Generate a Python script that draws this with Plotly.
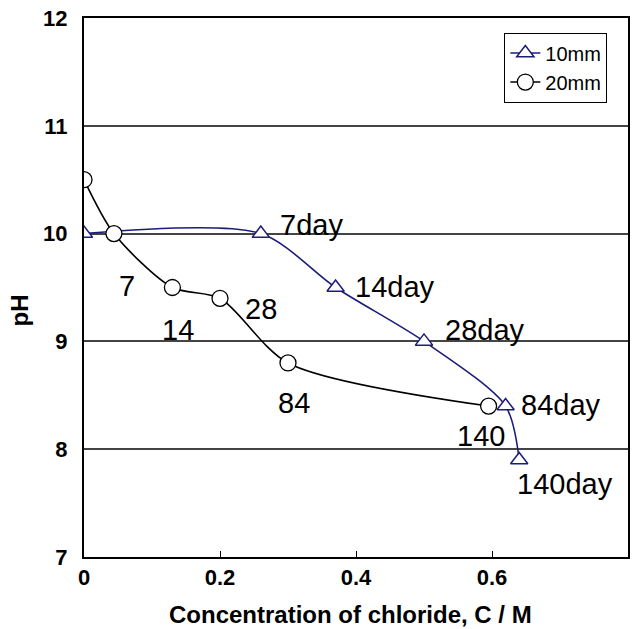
import plotly.graph_objects as go

# Data
x_10mm = [0.0, 0.26, 0.37, 0.50, 0.62, 0.64]
ph_10mm = [10.0, 10.0, 9.5, 9.0, 8.4, 7.9]
x_20mm = [0.0, 0.044, 0.13, 0.20, 0.30, 0.595]
ph_20mm = [10.5, 10.0, 9.5, 9.4, 8.8, 8.4]

labels_10mm = ["7day", "14day", "28day", "84day", "140day"]
lab10_x = [0.285, 0.395, 0.528, 0.640, 0.634]
lab10_y = [10.08, 9.505, 9.11, 8.41, 7.68]
labels_20mm = ["7", "14", "28", "84", "140"]
lab20_x = [0.063, 0.138, 0.261, 0.309, 0.584]
lab20_y = [9.51, 9.105, 9.30, 8.43, 8.12]

x_ticks = [0, 0.2, 0.4, 0.6, 0.8]
x_tick_text = ["0", "0.2", "0.4", "0.6", "0.8"]
y_ticks = [7, 8, 9, 10, 11, 12]

x_title = "Concentration of chloride, C / M"
y_title = "pH"

FONT = "Liberation Sans, Arial, sans-serif"
NAVY = "#1c1c7a"

fig = go.Figure()
fig.add_trace(go.Scatter(
    x=x_10mm, y=ph_10mm, name="10mm", mode="lines+markers",
    line=dict(color=NAVY, width=1.6, shape="spline", smoothing=0.8),
    marker=dict(symbol="triangle-up", size=15, color="white",
                line=dict(color=NAVY, width=1.5)),
))
fig.add_trace(go.Scatter(
    x=x_20mm, y=ph_20mm, name="20mm", mode="lines+markers",
    line=dict(color="black", width=1.6, shape="spline", smoothing=0.8),
    marker=dict(symbol="circle", size=16, color="white",
                line=dict(color="black", width=1.3)),
))

annotations = []
for t, xx, yy in zip(labels_10mm, lab10_x, lab10_y):
    annotations.append(dict(x=xx, y=yy, text=t, xref="x", yref="y",
                            showarrow=False, xanchor="left", yanchor="middle",
                            font=dict(family=FONT, size=29, color="black")))
for t, xx, yy in zip(labels_20mm, lab20_x, lab20_y):
    annotations.append(dict(x=xx, y=yy, text=t, xref="x", yref="y",
                            showarrow=False, xanchor="center", yanchor="middle",
                            font=dict(family=FONT, size=29, color="black")))

# axis titles placed as annotations relative to the plot area
annotations.append(dict(x=0.49, y=-0.106, xref="paper", yref="paper",
                        text=x_title, showarrow=False,
                        xanchor="center", yanchor="middle",
                        font=dict(family=FONT, size=24, color="black", weight="bold")))
annotations.append(dict(x=-0.119, y=0.458, xref="paper", yref="paper",
                        text=y_title, showarrow=False, textangle=-90,
                        xanchor="center", yanchor="middle",
                        font=dict(family=FONT, size=24, color="black", weight="bold")))

fig.update_layout(
    width=639, height=629,
    margin=dict(l=84, r=11, t=18, b=72),
    paper_bgcolor="white", plot_bgcolor="white",
    font=dict(family=FONT, color="black"),
    showlegend=True,
    legend=dict(x=0.962, y=0.973, xanchor="right", yanchor="top",
                bgcolor="white", bordercolor="black", borderwidth=1,
                font=dict(family=FONT, size=20, color="black"),
                tracegroupgap=0),
    annotations=annotations,
    xaxis=dict(range=[0, 0.8], tickvals=x_ticks, ticktext=x_tick_text,
               automargin=False,
               showgrid=False, zeroline=False,
               showline=True, linecolor="black", linewidth=2, mirror=True,
               ticks="inside", ticklen=6, tickcolor="black", tickwidth=1,
               tickfont=dict(family=FONT, size=22, color="black", weight="bold")),
    yaxis=dict(range=[7, 12], tickvals=y_ticks, automargin=False,
               showgrid=True, gridcolor="#444444", gridwidth=1.5, zeroline=False,
               showline=True, linecolor="black", linewidth=2, mirror=True,
               ticks="", ticklabelstandoff=10,
               tickfont=dict(family=FONT, size=22, color="black", weight="bold")),
)

fig.write_html("out.html")
